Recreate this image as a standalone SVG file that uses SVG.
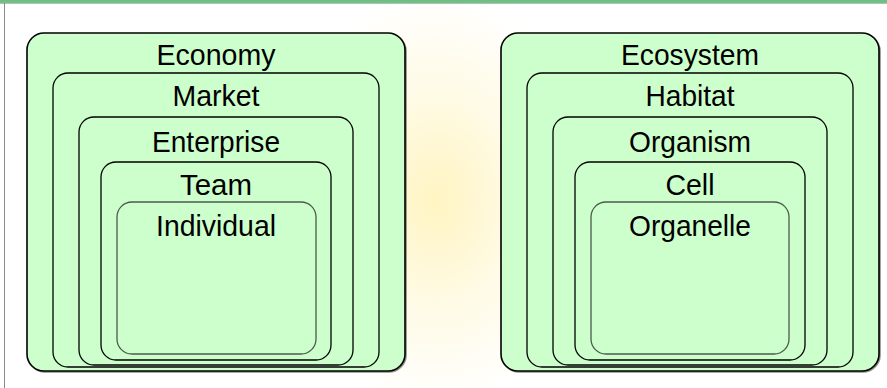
<svg xmlns="http://www.w3.org/2000/svg" width="887" height="388" viewBox="0 0 887 388">
  <defs>
    <radialGradient id="glow" cx="436" cy="200" r="210" gradientUnits="userSpaceOnUse" gradientTransform="translate(436 200) scale(0.75 1) translate(-436 -200)">
      <stop offset="0" stop-color="#fff4c2"/>
      <stop offset="0.55" stop-color="#fffbe8"/>
      <stop offset="1" stop-color="#ffffff"/>
    </radialGradient>
    <filter id="shadow" x="-5%" y="-5%" width="110%" height="110%">
      <feDropShadow dx="1" dy="1" stdDeviation="0.6" flood-color="#000" flood-opacity="0.45"/>
    </filter>
  </defs>
  <style>
    .box { fill: #ccffcc; stroke: #000; stroke-width: 1.3; }
    .outer { stroke-width: 1.6; }
    .inner { stroke: #4d5a4d; }
    .label { font-family: "Liberation Sans", Arial, sans-serif; font-size: 30px; fill: #000; text-anchor: middle; }
  </style>

  <!-- page background -->
  <rect x="0" y="0" width="887" height="388" fill="#ffffff"/>
  <rect x="0" y="0" width="887" height="388" fill="url(#glow)"/>
  <rect x="0" y="0" width="887" height="2.5" fill="#6cc182"/>
  <line x1="0" y1="3" x2="887" y2="3" stroke="#4f8f60" stroke-width="1"/>
  <line x1="4.5" y1="3" x2="4.5" y2="388" stroke="#8a8a8a" stroke-width="1"/>

  <!-- economic hierarchy -->
  <g id="economy">
    <rect class="box outer" filter="url(#shadow)" x="27" y="33" width="378" height="338" rx="17"/>
    <text class="label" x="216" y="65" textLength="119" lengthAdjust="spacingAndGlyphs">Economy</text>
  </g>
  <g id="market">
    <rect class="box" x="53" y="73" width="326" height="294" rx="15"/>
    <text class="label" x="216" y="106" textLength="87" lengthAdjust="spacingAndGlyphs">Market</text>
  </g>
  <g id="enterprise">
    <rect class="box" x="79" y="117" width="274" height="248" rx="15"/>
    <text class="label" x="216" y="152" textLength="128" lengthAdjust="spacingAndGlyphs">Enterprise</text>
  </g>
  <g id="team">
    <rect class="box" x="101" y="162" width="230" height="198" rx="15"/>
    <text class="label" x="216" y="195" textLength="72" lengthAdjust="spacingAndGlyphs">Team</text>
  </g>
  <g id="individual">
    <rect class="box inner" x="117" y="202" width="199" height="152" rx="15"/>
    <text class="label" x="216" y="236" textLength="120" lengthAdjust="spacingAndGlyphs">Individual</text>
  </g>

  <!-- biological hierarchy -->
  <g id="ecosystem">
    <rect class="box outer" filter="url(#shadow)" x="501" y="33" width="378" height="338" rx="17"/>
    <text class="label" x="690" y="65" textLength="138" lengthAdjust="spacingAndGlyphs">Ecosystem</text>
  </g>
  <g id="habitat">
    <rect class="box" x="527" y="73" width="326" height="294" rx="15"/>
    <text class="label" x="690" y="106" textLength="89" lengthAdjust="spacingAndGlyphs">Habitat</text>
  </g>
  <g id="organism">
    <rect class="box" x="553" y="117" width="274" height="248" rx="15"/>
    <text class="label" x="690" y="152" textLength="122" lengthAdjust="spacingAndGlyphs">Organism</text>
  </g>
  <g id="cell">
    <rect class="box" x="575" y="162" width="230" height="198" rx="15"/>
    <text class="label" x="690" y="195" textLength="49" lengthAdjust="spacingAndGlyphs">Cell</text>
  </g>
  <g id="organelle">
    <rect class="box inner" x="591" y="202" width="198" height="152" rx="15"/>
    <text class="label" x="690" y="236" textLength="122" lengthAdjust="spacingAndGlyphs">Organelle</text>
  </g>

  <g id="connectors"/>
</svg>
